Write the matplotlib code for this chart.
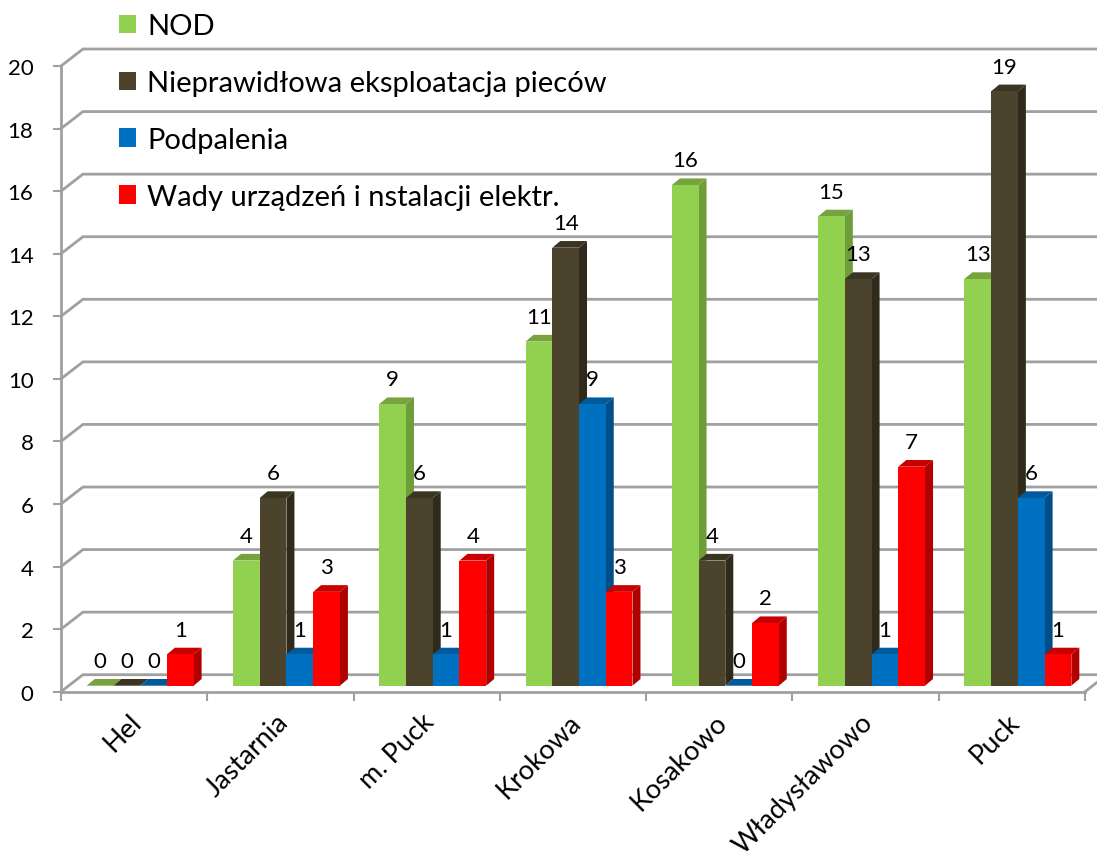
import matplotlib
matplotlib.use("Agg")
import matplotlib.pyplot as plt
import matplotlib.transforms as mtransforms
from matplotlib.patches import Polygon, Patch

plt.rcParams['font.family'] = ['Lato', 'DejaVu Sans']

# data
categories = ['Hel', 'Jastarnia', 'm. Puck', 'Krokowa', 'Kosakowo', 'Władysławowo', 'Puck']
series_names = ['NOD', 'Nieprawidłowa eksploatacja pieców', 'Podpalenia',
                'Wady urządzeń i nstalacji elektr.']
nod = [0, 4, 9, 11, 16, 15, 13]
piece = [0, 6, 6, 14, 4, 13, 19]
podpalenia = [0, 1, 1, 9, 0, 1, 6]
wady = [1, 3, 4, 3, 2, 7, 1]
series = [nod, piece, podpalenia, wady]

# colours: front, side, top
front_c = ['#92D050', '#4B432C', '#0070C0', '#FF0000']
side_c = ['#6E9D3A', '#2F2A1B', '#004E87', '#B00000']
top_c = ['#76A33E', '#3A3422', '#005A9C', '#C80000']
grid_c = '#A0A0A0'

W, H, DPI = 1097, 854, 100
fig = plt.figure(figsize=(W / DPI, H / DPI), dpi=DPI)
ax = fig.add_axes([61 / W, 161.3 / H, 1024 / W, 625.7 / H])
ax.set_xlim(-0.5, len(categories) - 0.5)
ax.set_ylim(0, 20)

# 3D look parameters (data units)
wall_dx, wall_dy = 0.150, 0.543      # depth of back wall
bar_dx, bar_dy = 0.0547, 0.214       # bar depth
group_w = 0.731
bar_w = group_w / len(series)
shift = mtransforms.ScaledTranslation(6 / DPI, 6 / DPI, fig.dpi_scale_trans)
bar_tr = ax.transData + shift

# back wall gridlines + left wall diagonals
x0, x1 = -0.5, len(categories) - 0.5
for v in range(0, 21, 2):
    ax.plot([x0, x0 + wall_dx, x1 + wall_dx], [v, v + wall_dy, v + wall_dy],
            color=grid_c, lw=2, clip_on=False, zorder=1, solid_joinstyle='miter')
# floor right edge
ax.plot([x1, x1 + wall_dx], [0, wall_dy], color=grid_c, lw=2, clip_on=False, zorder=1)

# bars
for i in range(len(categories)):
    for j, vals in enumerate(series):
        v = vals[i]
        xl = i - group_w / 2 + j * bar_w
        xr = xl + bar_w
        z = 3 + j * 0.1
        ax.add_patch(Polygon([(xr, 0), (xr + bar_dx, bar_dy), (xr + bar_dx, v + bar_dy), (xr, v)],
                             closed=True, facecolor=side_c[j], edgecolor='none',
                             transform=bar_tr, zorder=z, clip_on=False))
        ax.add_patch(Polygon([(xl, v), (xl + bar_dx, v + bar_dy), (xr + bar_dx, v + bar_dy), (xr, v)],
                             closed=True, facecolor=top_c[j], edgecolor='none',
                             transform=bar_tr, zorder=z, clip_on=False))
        ax.bar(xl, v, width=bar_w, align='edge', color=front_c[j], transform=bar_tr,
               zorder=z + 0.01, clip_on=False, linewidth=0)
        ax.text(xl + bar_w / 2, v + 0.79, str(v), transform=bar_tr, ha='center', va='center',
                fontsize=16, color='black', zorder=10)

# axes styling
for s in ['top', 'right']:
    ax.spines[s].set_visible(False)
for s in ['left', 'bottom']:
    ax.spines[s].set_color(grid_c)
    ax.spines[s].set_linewidth(2)
ax.set_yticks(range(0, 21, 2))
ax.tick_params(axis='y', length=5.8, width=1.5, color=grid_c, labelsize=16, pad=14)
ax.set_xticks([i - 0.5 for i in range(len(categories) + 1)], minor=True)
ax.tick_params(axis='x', which='minor', length=6.5, width=1.5, color=grid_c, direction='out')
ax.set_xticks(range(len(categories)))
ax.tick_params(axis='x', which='major', length=0, labelsize=19.5, pad=0)
ax.set_xticklabels(categories, rotation=45, ha='right', va='top', rotation_mode='anchor')
lab_shift = mtransforms.ScaledTranslation(-5 / DPI, -17 / DPI, fig.dpi_scale_trans)
for lab in ax.get_xticklabels():
    lab.set_transform(lab.get_transform() + lab_shift)
ax.patch.set_visible(False)

handles = [Patch(facecolor=c, edgecolor='none', label=n) for c, n in zip(front_c, series_names)]
fig.legend(handles=handles, loc='upper left', bbox_to_anchor=(119 / W, 1 - 14 / H), frameon=False,
           fontsize=21, handlelength=0.58, handleheight=0.58, handletextpad=0.38,
           labelspacing=1.06, borderpad=0, borderaxespad=0)

fig.savefig('out.png', dpi=DPI)
